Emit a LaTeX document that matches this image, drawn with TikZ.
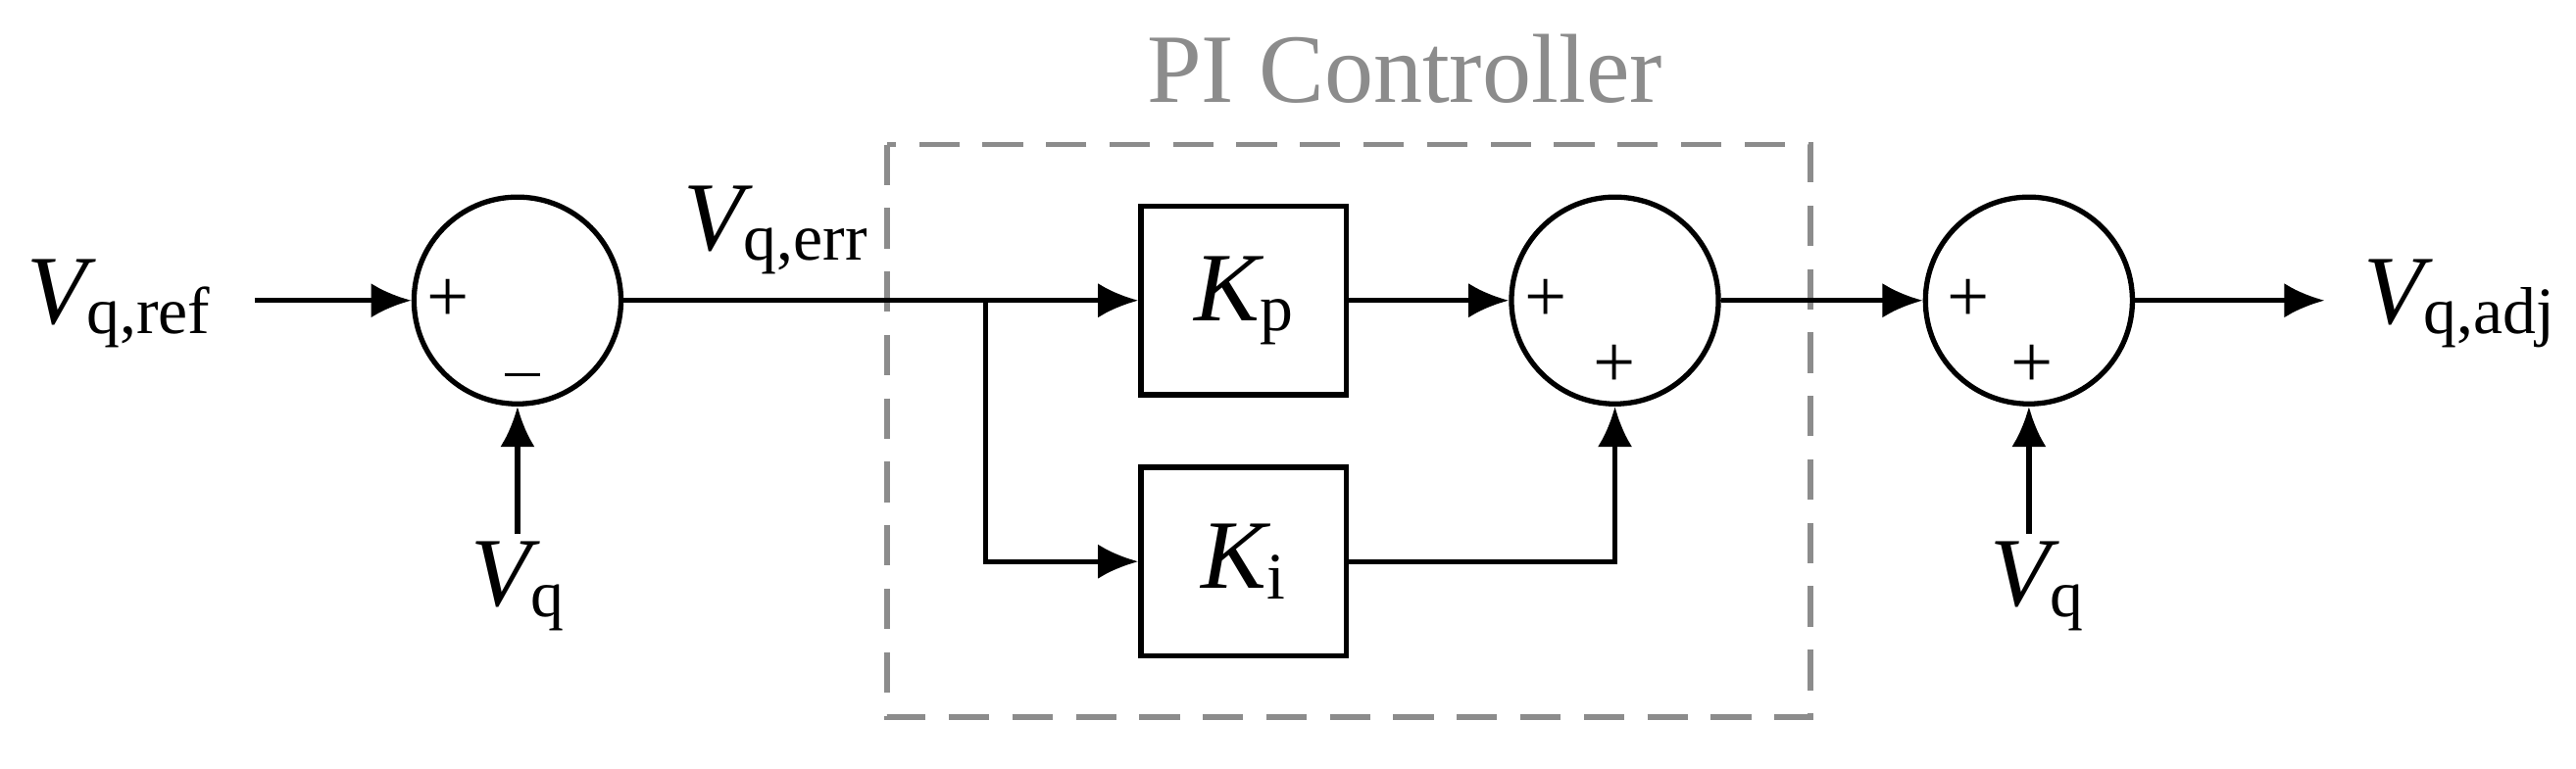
\documentclass[tikz,border=0pt]{standalone}
\usepackage{fontspec}
\setmainfont{Liberation Serif}
\usetikzlibrary{arrows.meta}
\newcommand\vsub[2]{{\fontsize{34}{34}\selectfont\itshape #1}\raisebox{-0.35em}{\fontsize{23}{23}\selectfont #2}}
\begin{document}
\begin{tikzpicture}[x=0.02cm,y=-0.02cm,
  ln/.style={line width=1.8pt},
  ar/.style={ln,-{Latex[length=14pt,width=12pt]}},
  sum/.style={circle,draw,line width=1.8pt,minimum size=2.52cm,inner sep=0pt},
  blk/.style={draw,line width=1.8pt,minimum width=2.5cm,minimum height=2.3cm,inner sep=0pt},
  pl/.style={font=\fontsize{26}{26}\selectfont,inner sep=0pt},
  lab/.style={inner sep=0pt}]
\useasboundingbox (0,0) rectangle (1568,468);
\node[sum] (s1) at (315,183) {};
\node[sum] (s2) at (983,183) {};
\node[sum] (s3) at (1235,183) {};
\node[blk] (kp) at (757,183) {\vsub{K}{p}};
\node[blk] (ki) at (757,342) {\vsub{K}{i}};
\node[lab] (vref) at (72,185) {\vsub{V}{q,ref}};
\node[lab] (vq1) at (315,357) {\vsub{V}{q}};
\node[lab] (vq2) at (1240,357) {\vsub{V}{q}};
\node[lab] (verr) at (472,140) {\vsub{V}{q,err}};
\node[lab] (vadj) at (1497,185) {\vsub{V}{q,adj}};
\node[pl] at (273,183) {+};
\node[pl] at (318,228) {\rule{12pt}{1pt}};
\node[pl] at (941,183) {+};
\node[pl] at (983,223) {+};
\node[pl] at (1198,183) {+};
\node[pl] at (1237,223) {+};
\node[lab,text=gray!90,font=\fontsize{34}{34}\selectfont] (pi) at (855,42) {PI Controller};
\draw[gray!90,line width=2pt,dash pattern=on 14pt off 8pt] (540,88) rectangle (1102,437);
\coordinate (a1) at (155,183);
\coordinate (b1) at (315,325);
\coordinate (b3) at (1235,325);
\coordinate (br) at (600,183);
\coordinate (out) at (1415,183);
\draw[ar] (a1) -- (s1.west);
\draw[ar] (b1) -- (s1.south);
\draw[ar] (s1.east) -- (kp.west);
\draw[ar] (br) |- (ki.west);
\draw[ar] (kp.east) -- (s2.west);
\draw[ar] (ki.east) -| (s2.south);
\draw[ar] (s2.east) -- (s3.west);
\draw[ar] (b3) -- (s3.south);
\draw[ar] (s3.east) -- (out);
\end{tikzpicture}
\end{document}
